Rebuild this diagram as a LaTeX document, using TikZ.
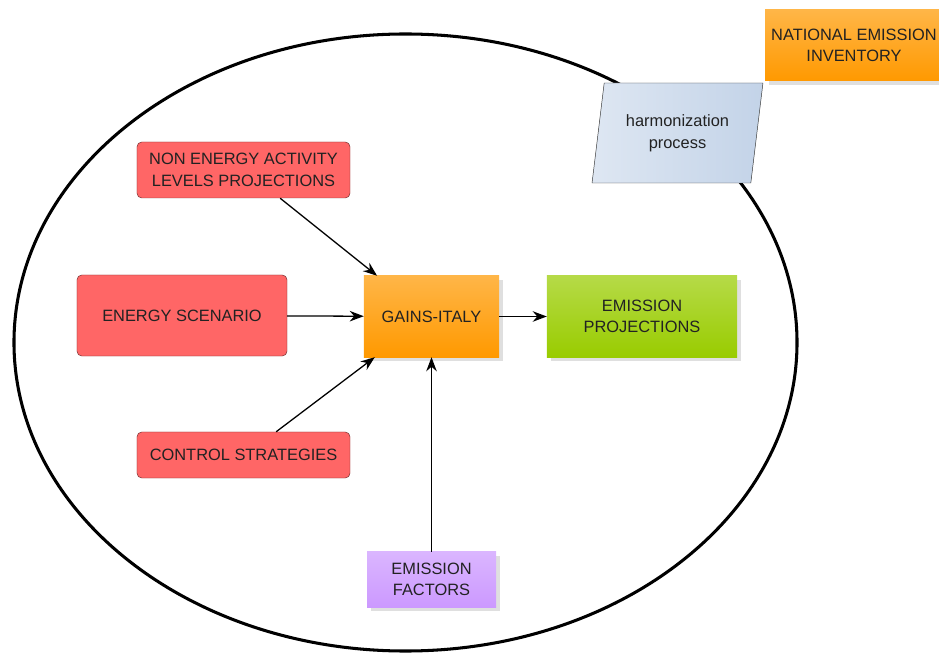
\documentclass[tikz,border=0pt]{standalone}
\usepackage{fontspec}
\setmainfont{Liberation Sans}
\usetikzlibrary{shapes.geometric, arrows.meta, shadows}
\definecolor{inred}{HTML}{FF6666}
\definecolor{inredline}{HTML}{6E2E2E}
\definecolor{gainsorange}{HTML}{FF9900}
\definecolor{outgreen}{HTML}{99CC00}
\definecolor{efviolet}{HTML}{CC99FF}
\definecolor{harmblue}{HTML}{C3D3E8}
\definecolor{labeltext}{HTML}{222222}
\tikzset{->,  % directed connectors
>={Stealth[length=12pt,width=9pt]}, % bold arrow heads
every node/.style={align=center, text=labeltext, font=\fontsize{14}{18.5}\selectfont, inner sep=0pt},
input/.style={draw=inredline, fill=inred, rounded corners=4pt}, % red input boxes
glossy/.style={shading=axis, top color=#1!72!white, middle color=#1, bottom color=#1, drop shadow={shadow xshift=3pt, shadow yshift=-3pt, opacity=0.25}}, % shaded boxes
}

\begin{document}
\begin{tikzpicture}[x=0.03cm, y=-0.03cm]
    \clip (0,0) rectangle (939,653);
    \draw[line width=2.6pt] (405.5,342.5) ellipse (11.745cm and 9.255cm);
    \node[input, minimum width=6.39cm, minimum height=1.68cm] (nonenergy) at (243.5,170) {NON ENERGY ACTIVITY\\LEVELS PROJECTIONS};
    \node[input, minimum width=6.3cm, minimum height=2.43cm] (energy) at (182,315.5) {ENERGY SCENARIO};
    \node[input, minimum width=6.39cm, minimum height=1.38cm] (control) at (243.5,455) {CONTROL STRATEGIES};
    \node[glossy=gainsorange, minimum width=4.05cm, minimum height=2.43cm] (gains) at (431.5,316.5) {GAINS-ITALY};
    \node[glossy=outgreen, minimum width=5.7cm, minimum height=2.43cm] (projections) at (642,316.5) {EMISSION\\PROJECTIONS};
    \node[glossy=efviolet, minimum width=3.87cm, minimum height=1.65cm] (factors) at (431.5,579.5) {EMISSION\\FACTORS};
    \node[trapezium, trapezium left angle=77, trapezium right angle=103, trapezium stretches=true, draw=black!80, left color=harmblue!55!white, right color=harmblue, minimum width=5.13cm, minimum height=3cm] (harmon) at (677.5,133) {harmonization\\process};
    \node[glossy=gainsorange, minimum width=5.34cm, minimum height=2.13cm] (inventory) at (854,45.5) {NATIONAL EMISSION\\INVENTORY};
    \path[line width=1.1pt] ([xshift=1.1cm]nonenergy.south) edge ([xshift=0.4cm]gains.north west)
    (energy) edge (gains)
    ([xshift=0.98cm]control.north) edge ([xshift=0.33cm]gains.south west)
    (factors) edge (gains)
    (gains) edge (projections);
\end{tikzpicture}
\end{document}
